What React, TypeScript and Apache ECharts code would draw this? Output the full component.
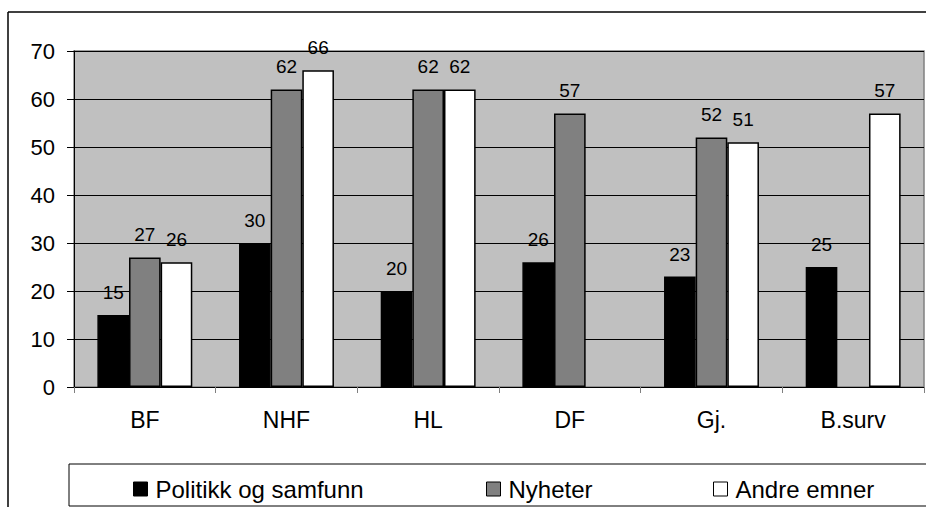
import React, { useEffect, useRef } from "react";
import * as echarts from "echarts";

const categories = ["BF", "NHF", "HL", "DF", "Gj.", "B.surv"];
const seriesNames = ["Politikk og samfunn", "Nyheter", "Andre emner"];
const politikk = [15, 30, 20, 26, 23, 25];
const nyheter: (number | null)[] = [27, 62, 62, 57, 52, null];
const andre: (number | null)[] = [26, 66, 62, null, 51, 57];
const colors = ["#000000", "#808080", "#FFFFFF"];

const FONT = "'Liberation Sans', Arial, sans-serif";

export default function App() {
  const ref = useRef<HTMLDivElement>(null);
  useEffect(() => {
    if (!ref.current) return;
    const chart = echarts.init(ref.current, null, { renderer: "svg" });
    const values = [politikk, nyheter, andre];
    const legendLefts = [128, 481, 708];
    chart.setOption({
      animation: false,
      backgroundColor: "#ffffff",
      textStyle: { fontFamily: FONT },
      grid: {
        left: 74,
        right: 2,
        top: 51,
        bottom: 120,
        show: true,
        backgroundColor: "#C0C0C0",
        borderColor: "#808080",
        borderWidth: 1.5,
      },
      legend: seriesNames.map((n, i) => ({
        data: [n],
        left: legendLefts[i],
        top: 472,
        itemWidth: 14,
        itemHeight: 14,
        icon: "rect",
        itemGap: 0,
        selectedMode: false,
        itemStyle: { borderColor: "#000", borderWidth: 1 },
        textStyle: { fontSize: 24, color: "#000", fontFamily: FONT, padding: [0, 0, 0, 3] },
      })),
      xAxis: {
        type: "category",
        data: categories,
        axisLine: { lineStyle: { color: "#000", width: 1 } },
        axisTick: { show: true, length: 6, lineStyle: { color: "#808080" } },
        axisLabel: { fontSize: 23, color: "#000", margin: 21, fontFamily: FONT },
      },
      yAxis: {
        type: "value",
        min: 0,
        max: 70,
        interval: 10,
        axisLine: { show: true, lineStyle: { color: "#000", width: 1 } },
        axisTick: { show: true, length: 7, lineStyle: { color: "#000" } },
        axisLabel: { fontSize: 22, color: "#000", margin: 19, fontFamily: FONT },
        splitLine: { show: true, lineStyle: { color: "#000", width: 1 } },
      },
      series: seriesNames.map((n, i) => ({
        name: n,
        type: "bar",
        data: values[i],
        barGap: "0%",
        barCategoryGap: "33%",
        itemStyle: { color: colors[i], borderColor: "#000", borderWidth: 1.5 },
        label: {
          show: true,
          position: "top",
          distance: 13,
          fontSize: 19,
          color: "#000",
          fontFamily: FONT,
        },
      })),
      graphic: [
        { type: "line", shape: { x1: 8, y1: 12, x2: 926, y2: 12 }, style: { stroke: "#000", lineWidth: 1.5 } },
        { type: "line", shape: { x1: 8, y1: 12, x2: 8, y2: 507 }, style: { stroke: "#000", lineWidth: 1.5 } },
        {
          type: "rect",
          shape: { x: 69, y: 464, width: 900, height: 42 },
          style: { fill: "none", stroke: "#000", lineWidth: 1 },
          z: -1,
        },
      ],
    });
    return () => chart.dispose();
  }, []);
  return (
    <div
      ref={ref}
      style={{ position: "absolute", left: 0, top: 0, width: 926, height: 507 }}
    />
  );
}
